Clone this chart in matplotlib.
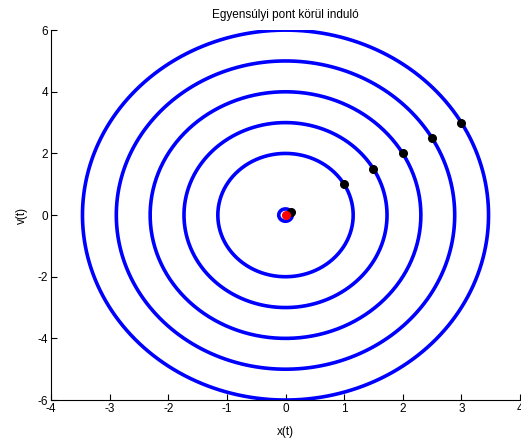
import numpy as np
import matplotlib
matplotlib.use("Agg")
import matplotlib.pyplot as plt

plt.rcParams['font.family'] = ['Liberation Sans', 'DejaVu Sans']
plt.rcParams['axes.unicode_minus'] = False

# initial conditions (x0, v0) of each trajectory
x0 = [0.1, 1.0, 1.5, 2.0, 2.5, 3.0]
v0 = [0.1, 1.0, 1.5, 2.0, 2.5, 3.0]
omega2 = 3.0  # x'' = -omega2 * x
eq_x, eq_v = [0.0], [0.0]
xticks = [-4, -3, -2, -1, 0, 1, 2, 3, 4]
yticks = [-6, -4, -2, 0, 2, 4, 6]

fig = plt.figure(figsize=(5.21, 4.43), dpi=100)
ax = fig.add_axes([0.098, 0.097, 0.9, 0.835])

w = np.sqrt(omega2)
t = np.linspace(0, 2 * np.pi / w, 400)
for a, b in zip(x0, v0):
    x = a * np.cos(w * t) + b / w * np.sin(w * t)
    v = -a * w * np.sin(w * t) + b * np.cos(w * t)
    ax.plot(x, v, color='#0000ff', lw=2.6, zorder=2)

ax.plot(x0, v0, 'o', color='black', ms=5.5, zorder=3)
ax.plot(eq_x, eq_v, 'o', color='red', ms=5.5, zorder=4)

ax.set_xlim(-4, 4)
ax.set_ylim(-6, 6)
ax.set_xticks(xticks)
ax.set_yticks(yticks)
ax.tick_params(direction='in', labelsize=8.5, length=4, width=0.8, pad=2)
ax.spines['top'].set_visible(False)
ax.spines['right'].set_visible(False)
ax.set_title('Egyensúlyi pont körül induló', fontsize=8.5, pad=9)
ax.set_xlabel('x(t)', fontsize=8.5, labelpad=8)
ax.set_ylabel('v(t)', fontsize=8.5, labelpad=7)

fig.savefig('out.png', dpi=100)
